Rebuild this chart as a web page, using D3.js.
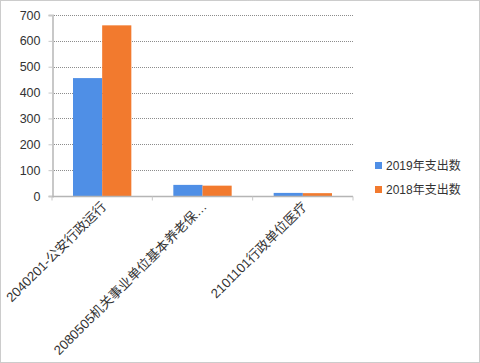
<!DOCTYPE html>
<html>
<head>
<meta charset="utf-8">
<script src="https://cdn.jsdelivr.net/npm/d3@7"></script>
<style>
  body { margin: 0; background: #fff; }
  svg text { font-family: "Liberation Sans", "Noto Sans CJK SC", sans-serif; }
</style>
</head>
<body>
<svg id="chart" width="480" height="363"></svg>
<script>
// categories and values
var categories = ["2040201-公安行政运行", "2080505机关事业单位基本养老保…", "2101101行政单位医疗"];
var seriesNames = ["2019年支出数", "2018年支出数"];
var values2019 = [456, 43, 12];
var values2018 = [660, 40, 11];
var yTicks = [0, 100, 200, 300, 400, 500, 600, 700];
var colors = ["#4f8fe6", "#f27a2e"];

var svg = d3.select("#chart");
var margin = {left: 52, top: 15, right: 127, bottom: 167};
var W = 480, H = 363;

// outer dotted frame
svg.append("rect")
    .attr("x", 0.5).attr("y", 0.5)
    .attr("width", W - 1).attr("height", H - 1)
    .attr("fill", "none")
    .attr("stroke", "#999")
    .attr("stroke-dasharray", "1,1");

var x = d3.scaleBand()
    .domain(categories)
    .range([margin.left, W - margin.right]);

var x1 = d3.scaleBand()
    .domain(seriesNames)
    .range([0, x.bandwidth()])
    .paddingInner(0)
    .paddingOuter(0.72);

var y = d3.scaleLinear()
    .domain([0, 700])
    .range([H - margin.bottom, margin.top]);

var g = svg.append("g");

// gridlines
g.selectAll(".grid")
    .data(yTicks.filter(function(d) { return d > 0; }))
    .enter().append("line")
    .attr("x1", margin.left).attr("x2", W - margin.right)
    .attr("y1", function(d) { return Math.round(y(d)) + 0.5; })
    .attr("y2", function(d) { return Math.round(y(d)) + 0.5; })
    .attr("stroke", "#8c8c8c")
    .attr("stroke-dasharray", "1,1");

// y axis
var yAxis = g.append("g")
    .attr("transform", "translate(" + (margin.left + 0.5) + ",0)")
    .call(d3.axisLeft(y).tickValues(yTicks).tickSize(4).tickPadding(8));
yAxis.select(".domain").attr("stroke", "#c8c8c8").attr("stroke-width", 2);
yAxis.selectAll(".tick line").attr("stroke", "#c8c8c8");
yAxis.selectAll("text").attr("font-size", 12.5).attr("fill", "#333");

// bars
var data = categories.map(function(c, i) {
    return {cat: c, vals: [values2019[i], values2018[i]]};
});
var grp = g.selectAll(".grp")
    .data(data)
    .enter().append("g")
    .attr("transform", function(d) { return "translate(" + x(d.cat) + ",0)"; });
grp.selectAll("rect")
    .data(function(d) { return d.vals.map(function(v, j) { return {v: v, s: seriesNames[j], j: j}; }); })
    .enter().append("rect")
    .attr("x", function(d) { return x1(d.s); })
    .attr("width", x1.bandwidth())
    .attr("y", function(d) { return y(d.v); })
    .attr("height", function(d) { return y(0) - y(d.v); })
    .attr("fill", function(d) { return colors[d.j]; });

// x axis
var xAxis = g.append("g")
    .attr("transform", "translate(0," + (y(0) + 0.5) + ")");
xAxis.append("line")
    .attr("x1", margin.left).attr("x2", W - margin.right)
    .attr("stroke", "#b5b5b5").attr("stroke-width", 1.5);
var bounds = categories.map(function(c) { return x(c); }).concat([W - margin.right]);
xAxis.selectAll(".xt")
    .data(bounds)
    .enter().append("line")
    .attr("x1", function(d) { return d; }).attr("x2", function(d) { return d; })
    .attr("y1", 0).attr("y2", 4)
    .attr("stroke", "#c8c8c8");

// rotated category labels
xAxis.selectAll(".lbl")
    .data(categories)
    .enter().append("text")
    .attr("text-anchor", "end")
    .attr("font-size", 13.2)
    .attr("fill", "#333")
    .attr("transform", function(d) {
        return "translate(" + (x(d) + x.bandwidth() / 2 + 5) + ",11) rotate(-45)";
    })
    .text(function(d) { return d; });

// legend
var leg = svg.append("g").attr("transform", "translate(375,162)");
seriesNames.forEach(function(s, i) {
    leg.append("rect")
        .attr("x", 0).attr("y", i * 24)
        .attr("width", 7).attr("height", 7)
        .attr("fill", colors[i]);
    leg.append("text")
        .attr("x", 11).attr("y", i * 24 + 8)
        .attr("font-size", 12)
        .attr("fill", "#333")
        .text(s);
});
</script>
</body>
</html>
